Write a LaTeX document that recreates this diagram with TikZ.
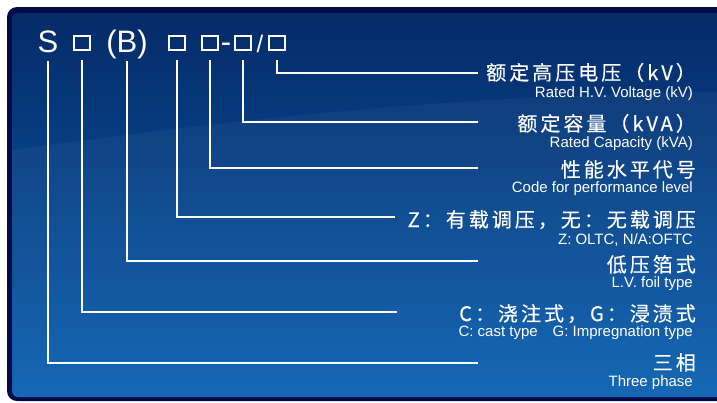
\documentclass[tikz,border=0pt]{standalone}
\usepackage{fontspec}
\setmainfont{Liberation Sans}
\newfontfamily\cjk[LetterSpace=15,FakeBold=0.4]{Noto Sans CJK SC}
\usetikzlibrary{positioning}
\definecolor{panelTop}{RGB}{5,42,104}
\definecolor{panelBot}{RGB}{12,98,178}
\definecolor{panelRim}{RGB}{2,10,72}
\tikzset{
  head/.style={text=white, inner sep=0pt, font=\fontsize{31}{34}\selectfont},
  sym/.style={text=white, inner sep=0pt, font=\fontsize{24}{26}\selectfont},
  sq/.style={draw=white, line width=2pt, minimum width=16pt, minimum height=14pt, inner sep=0pt},
  cn/.style={text=white, inner sep=0pt, anchor=base east, font=\cjk\fontsize{20}{22}\selectfont},
  en/.style={text=white, inner sep=0pt, anchor=base east, font=\fontsize{15}{17}\selectfont},
  lead/.style={draw=white, line width=2pt, shorten <=9pt}
}

\begin{document}
\begin{tikzpicture}[x=1pt, y=-1pt]
  \useasboundingbox (0,0) rectangle (717,402);
  % panel
  \fill[panelRim, rounded corners=10pt] (7,7) rectangle (730,401);
  \shade[top color=panelTop, bottom color=panelBot, rounded corners=6pt] (12,13) rectangle (730,397);
  \fill[white, opacity=0.04] (12,150) .. controls (300,110) and (500,95) .. (717,92) -- (717,397) -- (14,397) -- cycle;

  % type code
  \node[head, anchor=base] (S) at (48,52) {S};
  \node[sq] (b1) at (82,43) {};
  \node[head, anchor=base] (B) at (127,52) {(B)};
  \node[sq] (b2) at (177,43) {};
  \node[sq] (b3) at (210,43) {};
  \node[head, anchor=base] (dash) at (226,52) {-};
  \node[sq] (b4) at (243,43) {};
  \node[sym, anchor=base] (slash) at (260,52) {/};
  \node[sq] (b5) at (277,43) {};

  % meanings
  \node[cn] (kv) at (696,80) {额定高压电压（kV）};
  \node[en] (kvE) at (693,97) {Rated H.V. Voltage (kV)};
  \node[cn] (kva) at (696,131) {额定容量（kVA）};
  \node[en] (kvaE) at (693,147) {Rated Capacity (kVA)};
  \node[cn] (perf) at (696,177) {性能水平代号};
  \node[en] (perfE) at (693,192) {Code for performance level};
  \node[cn] (tap) at (696,227) {Z：有载调压，无：无载调压};
  \node[en] (tapE) at (693,244) {Z: OLTC, N/A:OFTC};
  \node[cn] (foil) at (696,272) {低压箔式};
  \node[en] (foilE) at (693,287) {L.V. foil type};
  \node[cn] (cast) at (696,321) {C：浇注式，G：浸渍式};
  \node[en] (castE) at (693,336) {C: cast type\quad G: Impregnation type};
  \node[cn] (phase) at (696,370) {三相};
  \node[en] (phaseE) at (693,386) {Three phase};

  \coordinate (kvEnd) at (478,73);
  \coordinate (kvaEnd) at (478,122);
  \coordinate (perfEnd) at (478,168);
  \coordinate (tapEnd) at (395,217);
  \coordinate (foilEnd) at (478,261);
  \coordinate (castEnd) at (397,312);
  \coordinate (phaseEnd) at (478,363);

  \draw[lead] (b5.south) |- (kvEnd);
  \draw[lead] (b4.south) |- (kvaEnd);
  \draw[lead] (b3.south) |- (perfEnd);
  \draw[lead] (b2.south) |- (tapEnd);
  \draw[lead] (B.base) |- (foilEnd);
  \draw[lead] (b1.south) |- (castEnd);
  \draw[lead] (S.base) |- (phaseEnd);
\end{tikzpicture}
\end{document}
